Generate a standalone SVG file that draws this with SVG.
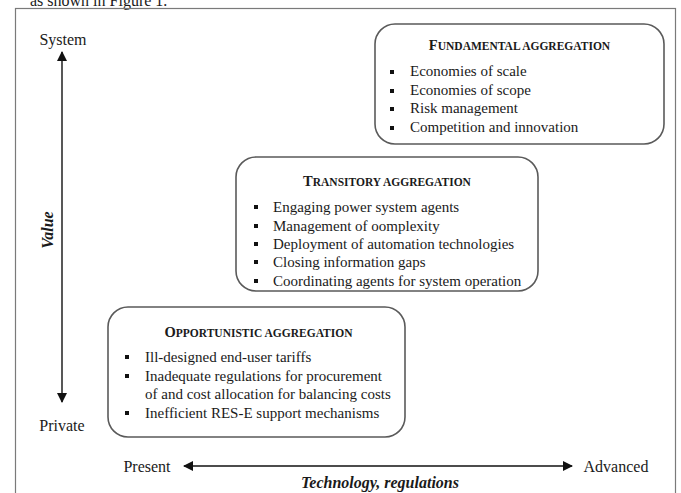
<svg xmlns="http://www.w3.org/2000/svg" width="681" height="493" viewBox="0 0 681 493">
  <style>
    .body { font-family: "Liberation Serif", "Times New Roman", serif; font-size: 15px; fill: #1a1a1a; }
    .title { font-family: "Liberation Serif", "Times New Roman", serif; font-size: 11.5px; font-weight: bold; fill: #1a1a1a; }
    .cap { font-size: 14.5px; }
    .axis { font-family: "Liberation Serif", "Times New Roman", serif; font-size: 16px; fill: #1a1a1a; }
    .axis-b { font-family: "Liberation Serif", "Times New Roman", serif; font-size: 16px; font-weight: bold; font-style: italic; fill: #1a1a1a; }
    .box { fill: #ffffff; stroke: #5a5a5a; stroke-width: 1.6; }
    .frame { fill: none; stroke: #7a7a7a; stroke-width: 1.2; }
    .bullet { fill: #111; }
    .arrow { stroke: #111; stroke-width: 1.4; fill: none; }
  </style>
  <defs>
    <marker id="head" viewBox="0 0 10 10" refX="9" refY="5" markerWidth="10" markerHeight="10" markerUnits="userSpaceOnUse" orient="auto-start-reverse">
      <path d="M0,0 L10,5 L0,10 Z" fill="#111"/>
    </marker>
  </defs>

  <rect width="681" height="493" fill="#ffffff"/>

  <!-- running text line above the figure -->
  <text x="30" y="6" class="axis" font-size="17">as shown in Figure 1.</text>

  <!-- figure frame -->
  <rect class="frame" x="15.5" y="8.5" width="660" height="500"/>

  <!-- axes -->
  <g id="connectors">
    <line class="arrow" x1="62" y1="402" x2="62" y2="52" marker-end="url(#head)" marker-start="url(#head)"/>
    <line class="arrow" x1="184" y1="466" x2="572" y2="466" marker-end="url(#head)" marker-start="url(#head)"/>
  </g>

  <g id="axis-labels">
    <text class="axis" x="63" y="45" text-anchor="middle">System</text>
    <text class="axis" x="62" y="431" text-anchor="middle">Private</text>
    <text class="axis-b" transform="translate(53 230) rotate(-90)" text-anchor="middle">Value</text>
    <text class="axis" x="147" y="472" text-anchor="middle" font-size="17.5">Present</text>
    <text class="axis" x="616" y="472" text-anchor="middle" font-size="17.5">Advanced</text>
    <text class="axis-b" x="380" y="488" text-anchor="middle">Technology, regulations</text>
  </g>

  <!-- fundamental aggregation -->
  <g id="fundamental">
    <rect class="box" x="375" y="24" width="289" height="120" rx="20"/>
    <text class="title" x="519.5" y="50" text-anchor="middle"><tspan class="cap">F</tspan>UNDAMENTAL AGGREGATION</text>
    <rect class="bullet" x="390" y="70" width="4" height="4"/>
    <rect class="bullet" x="390" y="89" width="4" height="4"/>
    <rect class="bullet" x="390" y="107" width="4" height="4"/>
    <rect class="bullet" x="390" y="126" width="4" height="4"/>
    <text class="body" x="410" y="76">Economies of scale</text>
    <text class="body" x="410" y="95">Economies of scope</text>
    <text class="body" x="410" y="113">Risk management</text>
    <text class="body" x="410" y="132">Competition and innovation</text>
  </g>

  <!-- transitory aggregation -->
  <g id="transitory">
    <rect class="box" x="236" y="157" width="302" height="134" rx="20"/>
    <text class="title" x="387" y="186" text-anchor="middle"><tspan class="cap">T</tspan>RANSITORY AGGREGATION</text>
    <rect class="bullet" x="254" y="205" width="4" height="4"/>
    <rect class="bullet" x="254" y="224" width="4" height="4"/>
    <rect class="bullet" x="254" y="242" width="4" height="4"/>
    <rect class="bullet" x="254" y="260" width="4" height="4"/>
    <rect class="bullet" x="254" y="279" width="4" height="4"/>
    <text class="body" x="273" y="212">Engaging power system agents</text>
    <text class="body" x="273" y="231">Management of oomplexity</text>
    <text class="body" x="273" y="249">Deployment of automation technologies</text>
    <text class="body" x="273" y="267">Closing information gaps</text>
    <text class="body" x="273" y="286">Coordinating agents for system operation</text>
  </g>

  <!-- opportunistic aggregation -->
  <g id="opportunistic">
    <rect class="box" x="108" y="307" width="297" height="130" rx="20"/>
    <text class="title" x="258.5" y="337" text-anchor="middle"><tspan class="cap">O</tspan>PPORTUNISTIC AGGREGATION</text>
    <rect class="bullet" x="125" y="355" width="4" height="4"/>
    <rect class="bullet" x="125" y="374" width="4" height="4"/>
    <rect class="bullet" x="125" y="411" width="4" height="4"/>
    <text class="body" x="145" y="362">Ill-designed end-user tariffs</text>
    <text class="body" x="145" y="381">Inadequate regulations for procurement</text>
    <text class="body" x="145" y="399">of and cost allocation for balancing costs</text>
    <text class="body" x="145" y="418">Inefficient RES-E support mechanisms</text>
  </g>
</svg>
